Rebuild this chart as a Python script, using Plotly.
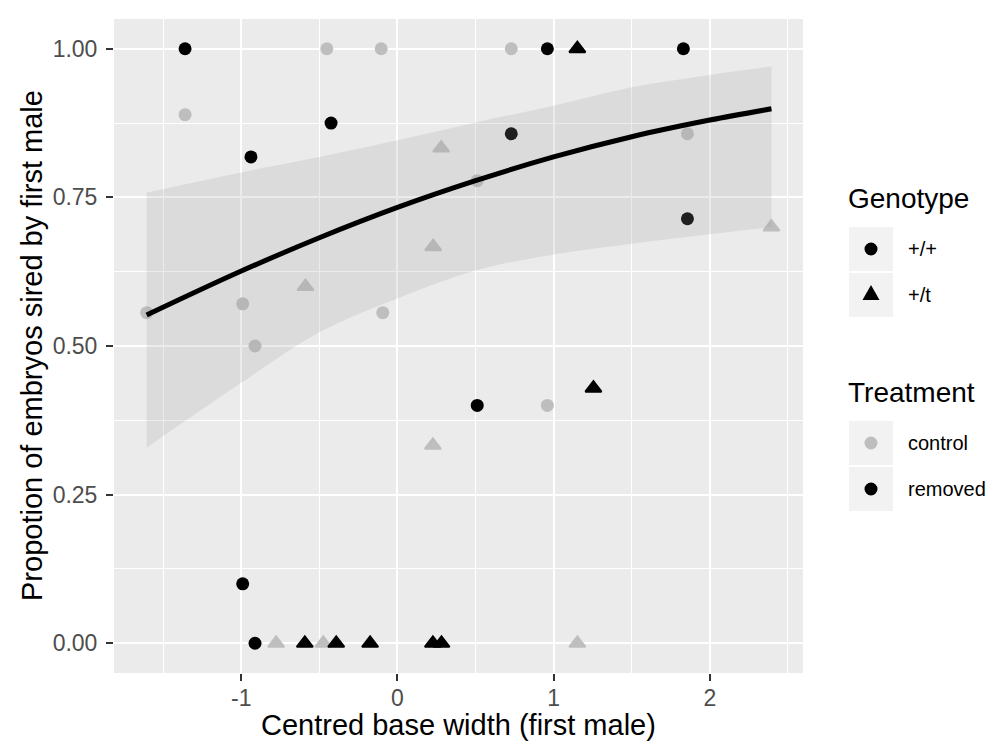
import plotly.graph_objects as go

W, H = 997, 742

def fx(p):
    return p / W

def fy(p):
    return 1 - p / H

# ---------------- data ----------------
# removed, genotype +/+  (black circles)
rem_pp_x = [-1.36, -0.425, -0.938, 0.96, 1.831, 0.729, 1.857, -0.991, -0.912, 0.511]
rem_pp_y = [1.0, 0.875, 0.818, 1.0, 1.0, 0.857, 0.714, 0.1, 0.0, 0.4]
# removed, genotype +/t  (black triangles)
rem_pt_x = [1.152, 1.255, -0.593, -0.392, -0.175, 0.227, 0.282]
rem_pt_y = [1.0, 0.429, 0.0, 0.0, 0.0, 0.0, 0.0]
# control, genotype +/+  (grey circles)
ctl_pp_x = [-1.36, -0.452, -0.104, 0.729, -0.991, -1.606, -0.094, -0.912, 1.857, 0.511, 0.96]
ctl_pp_y = [0.889, 1.0, 1.0, 1.0, 0.571, 0.556, 0.556, 0.5, 0.857, 0.778, 0.4]
# control, genotype +/t  (grey triangles)
ctl_pt_x = [0.28, 0.229, -0.589, 0.227, -0.777, -0.475, 1.152, 2.395]
ctl_pt_y = [0.833, 0.667, 0.6, 0.333, 0.0, 0.0, 0.0, 0.7]

# smoother (fit and confidence band)
fit_x = [-1.606, -1.0, -0.5, 0.0, 0.5, 1.0, 1.5, 2.0, 2.395]
fit_y = [0.552, 0.626, 0.682, 0.733, 0.778, 0.818, 0.852, 0.880, 0.899]
fit_hi = [0.758, 0.792, 0.818, 0.846, 0.876, 0.904, 0.935, 0.956, 0.970]
fit_lo = [0.329, 0.438, 0.523, 0.580, 0.627, 0.654, 0.672, 0.688, 0.700]

x_ticks = [-1, 0, 1, 2]
x_ticklabels = ["-1", "0", "1", "2"]
y_ticks = [0, 0.25, 0.5, 0.75, 1.0]
y_ticklabels = ["0.00", "0.25", "0.50", "0.75", "1.00"]

genotype_labels = ["+/+", "+/t"]
treatment_labels = ["control", "removed"]

GREY = "#BEBEBE"
BLACK = "#000000"
FONT = "Liberation Sans, Arial, sans-serif"

fig = go.Figure()

circ = dict(symbol="circle", size=13, line=dict(width=0))
tri_size = 14

fig.add_trace(go.Scatter(x=ctl_pp_x, y=ctl_pp_y, mode="markers",
                         marker=dict(color=GREY, **circ), showlegend=False))
fig.add_trace(go.Scatter(x=ctl_pt_x, y=ctl_pt_y, mode="markers",
                         marker=dict(color=GREY, symbol="triangle-up", size=tri_size,
                                     line=dict(color=GREY, width=2)), showlegend=False))
fig.add_trace(go.Scatter(x=rem_pp_x, y=rem_pp_y, mode="markers",
                         marker=dict(color=BLACK, **circ), showlegend=False))
fig.add_trace(go.Scatter(x=rem_pt_x, y=rem_pt_y, mode="markers",
                         marker=dict(color=BLACK, symbol="triangle-up", size=tri_size,
                                     line=dict(color=BLACK, width=2)), showlegend=False))

# ribbon
fig.add_trace(go.Scatter(x=fit_x, y=fit_lo, mode="lines", line=dict(width=0, shape="spline"),
                         showlegend=False, hoverinfo="skip"))
fig.add_trace(go.Scatter(x=fit_x, y=fit_hi, mode="lines", line=dict(width=0, shape="spline"),
                         fill="tonexty", fillcolor="rgba(153,153,153,0.2)",
                         showlegend=False, hoverinfo="skip"))
# fitted line
fig.add_trace(go.Scatter(x=fit_x, y=fit_y, mode="lines",
                         line=dict(color=BLACK, width=5, shape="spline"), showlegend=False))

axis_common = dict(
    showgrid=True, gridcolor="white", gridwidth=2.2,
    zeroline=False, showline=False,
    ticks="outside", ticklen=7, tickwidth=2.2, tickcolor="#333333",
    tickfont=dict(family=FONT, size=23, color="#4D4D4D"),
    automargin=False,
)

fig.update_layout(
    width=W, height=H,
    margin=dict(l=0, r=0, t=0, b=0),
    paper_bgcolor="white",
    plot_bgcolor="#EBEBEB",
    font=dict(family=FONT),
    xaxis=dict(domain=[fx(106), fx(795)], range=[-1.815, 2.597],
               tickmode="array", tickvals=x_ticks, ticktext=x_ticklabels,
               ticklabelstandoff=-3,
               minor=dict(tickvals=[-1.5, -0.5, 0.5, 1.5, 2.5], showgrid=True,
                          gridcolor="white", gridwidth=1.1, ticks=""),
               **axis_common),
    yaxis=dict(domain=[fy(665), fy(11)], range=[-0.05, 1.05],
               tickmode="array", tickvals=y_ticks, ticktext=y_ticklabels,
               ticklabelstandoff=4,
               minor=dict(tickvals=[0.125, 0.375, 0.625, 0.875], showgrid=True,
                          gridcolor="white", gridwidth=1.1, ticks=""),
               **axis_common),
)

annotations = [
    dict(text="Centred base width (first male)", x=fx(450), y=fy(717),
         xref="paper", yref="paper", xanchor="center", yanchor="middle",
         showarrow=False, font=dict(family=FONT, size=29, color="black")),
    dict(text="Propotion of embryos sired by first male", x=fx(24), y=fy(338),
         xref="paper", yref="paper", xanchor="center", yanchor="middle", textangle=-90,
         showarrow=False, font=dict(family=FONT, size=29, color="black")),
    dict(text="Genotype", x=fx(838), y=fy(190), xref="paper", yref="paper",
         xanchor="left", yanchor="middle", showarrow=False,
         font=dict(family=FONT, size=28, color="black")),
    dict(text="Treatment", x=fx(838), y=fy(384), xref="paper", yref="paper",
         xanchor="left", yanchor="middle", showarrow=False,
         font=dict(family=FONT, size=28, color="black")),
]

shapes = []
key_rows = [
    (genotype_labels[0], 241, "circle", BLACK),
    (genotype_labels[1], 287, "triangle", BLACK),
    (treatment_labels[0], 435, "circle", GREY),
    (treatment_labels[1], 481, "circle", BLACK),
]
for label, cy, sym, col in key_rows:
    shapes.append(dict(type="rect", xref="paper", yref="paper",
                       x0=fx(841), x1=fx(885), y0=fy(cy - 22), y1=fy(cy + 22),
                       fillcolor="#F2F2F2", line=dict(width=0), layer="above"))
    if sym == "circle":
        shapes.append(dict(type="circle", xref="paper", yref="paper",
                           xsizemode="pixel", ysizemode="pixel",
                           xanchor=fx(863), yanchor=fy(cy),
                           x0=-6.5, x1=6.5, y0=-6.5, y1=6.5,
                           fillcolor=col, line=dict(width=0), layer="above"))
    else:
        shapes.append(dict(type="path", xref="paper", yref="paper",
                           xsizemode="pixel", ysizemode="pixel",
                           xanchor=fx(863), yanchor=fy(cy),
                           path="M-8.5,-5 L8.5,-5 L0,10 Z",
                           fillcolor=col, line=dict(width=0), layer="above"))
    annotations.append(dict(text=label, x=fx(898), y=fy(cy), xref="paper", yref="paper",
                            xanchor="left", yanchor="middle", showarrow=False,
                            font=dict(family=FONT, size=20, color="black")))

fig.update_layout(annotations=annotations, shapes=shapes)

fig.write_html("out.html")
